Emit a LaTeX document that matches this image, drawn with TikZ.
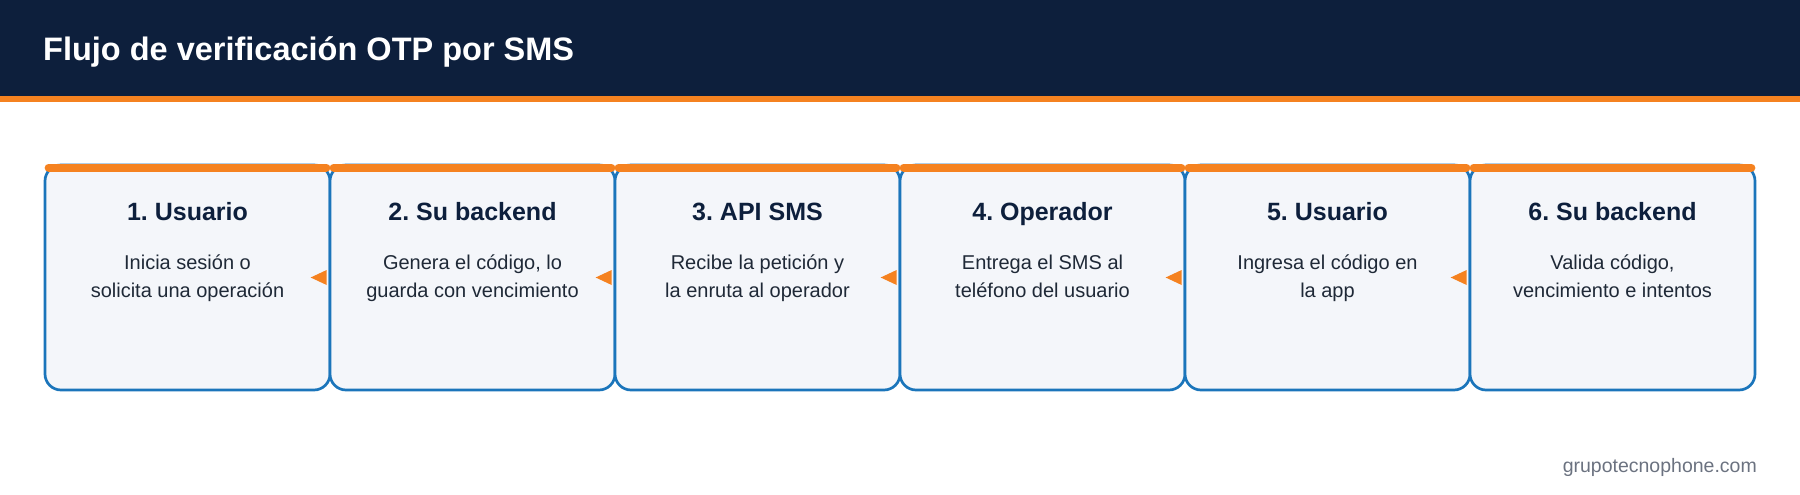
\documentclass[tikz,border=0pt]{standalone}
\usepackage{fontspec}
\setmainfont{Liberation Sans}
\usetikzlibrary{calc}

\definecolor{navy}{HTML}{0D1F3C}
\definecolor{accent}{HTML}{F58220}
\definecolor{stepblue}{HTML}{1B75BB}
\definecolor{stepfill}{HTML}{F4F6FA}
\definecolor{bodygray}{HTML}{1F2937}
\definecolor{footgray}{HTML}{6B7280}

\begin{document}
\frenchspacing
\begin{tikzpicture}[x=1pt, y=-1pt,
    stepbox/.style={draw=stepblue, line width=2.7pt, fill=stepfill, rounded corners=16pt,
        minimum width=285pt, minimum height=225pt, inner sep=0pt},
    steptitle/.style={anchor=base, inner sep=0pt, text=navy,
        font=\fontsize{25}{30}\selectfont\bfseries},
    steptext/.style={anchor=base, align=center, inner sep=0pt, text=bodygray,
        font=\fontsize{20}{28}\selectfont}]
  \useasboundingbox (0,0) rectangle (1800,495);

  % Add header
  \fill[navy] (0,0) rectangle (1800,96);
  \fill[accent] (0,96) rectangle (1800,102);
  \node[anchor=base west, inner sep=0pt, text=white, font=\fontsize{32.5}{38}\selectfont\bfseries]
    (title) at (43,60) {Flujo de verificación OTP por SMS};

  % Add the six steps
  \foreach \i/\name/\lineA/\lineB in {
      1/1. Usuario/Inicia sesión o/solicita una operación,
      2/2. Su backend/{Genera el código, lo}/guarda con vencimiento,
      3/3. API SMS/Recibe la petición y/la enruta al operador,
      4/4. Operador/Entrega el SMS al/teléfono del usuario,
      5/5. Usuario/Ingresa el código en/la app,
      6/6. Su backend/{Valida código,}/vencimiento e intentos} {
      \node[stepbox] (s\i) at ({187.5+(\i-1)*285}, 277.5) {};
      \draw[accent, line width=8pt, line cap=round]
        ($(s\i.north west)+(5,4)$) -- ($(s\i.north east)+(-5,4)$);
      \node[steptitle] (t\i) at ($(s\i.north)+(0,57)$) {\name};
      % base sits on the last line
      \node[steptext] (d\i) at ($(s\i.north)+(0,134)$) {\lineA\\\lineB};
    }

  % Add arrow tips between steps
  \foreach \i in {2,...,6} {
      \fill[accent] ($(s\i.west)+(-2,-7.5)$) -- ++(0,15) -- ++(-16,-7.5) -- cycle;
    }

  % Add footer
  \node[anchor=base east, inner sep=0pt, text=footgray, font=\fontsize{19.5}{24}\selectfont]
    (site) at (1757,472) {grupotecnophone.com};

\end{tikzpicture}
\end{document}
